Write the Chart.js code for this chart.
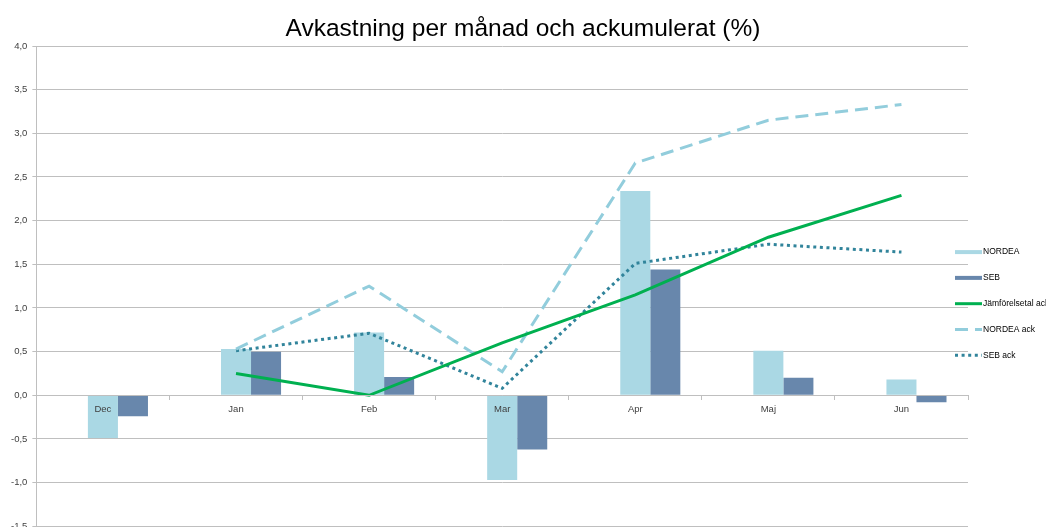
<!DOCTYPE html>
<html><head><meta charset="utf-8">
<script src="https://cdn.jsdelivr.net/npm/chart.js@4"></script>
<style>html,body{margin:0;padding:0;overflow:hidden;background:#fff}#wrap{position:relative;width:1046px;height:537px}</style>
</head><body><div id="wrap"><canvas id="c"></canvas></div>
<script>
const categories = ['Dec', 'Jan', 'Feb', 'Mar', 'Apr', 'Maj', 'Jun'];
const nordea = [-0.49, 0.53, 0.72, -0.97, 2.34, 0.51, 0.18];
const seb = [-0.24, 0.50, 0.21, -0.62, 1.44, 0.20, -0.08];
const jamforelseAck = [null, 0.25, 0.00, 0.60, 1.15, 1.81, 2.29];
const nordeaAck = [null, 0.53, 1.25, 0.27, 2.66, 3.15, 3.33];
const sebAck = [null, 0.51, 0.71, 0.08, 1.51, 1.73, 1.64];
const emptySlot = [null, null, null, null, null, null, null];
const yMin = -1.5, yMax = 4.0, yStep = 0.5;
const titleText = 'Avkastning per månad och ackumulerat (%)';

const FONT = '"Liberation Sans", Arial, sans-serif';
const gridColor = '#BFBFBF';
const datasets = [
  {type:'line', label:'Jämförelsetal ack', data:jamforelseAck, borderColor:'#00B050', borderWidth:3, pointRadius:0, tension:0, order:1, legendKind:'line'},
  {type:'line', label:'NORDEA ack', data:nordeaAck, borderColor:'#92CDDC', borderWidth:3, borderDash:[13,7], pointRadius:0, tension:0, order:1, legendKind:'line'},
  {type:'line', label:'SEB ack', data:sebAck, borderColor:'#31849B', borderWidth:3, borderDash:[3,3.6], pointRadius:0, tension:0, order:1, legendKind:'line'},
  {type:'bar', label:'', data:emptySlot, backgroundColor:'rgba(0,0,0,0)', order:2, legendKind:'none'},
  {type:'bar', label:'NORDEA', data:nordea, backgroundColor:'#AAD8E4', order:2, legendKind:'bar'},
  {type:'bar', label:'SEB', data:seb, backgroundColor:'#6887AC', order:2, legendKind:'bar'}
];
const legendOrder = ['NORDEA', 'SEB', 'Jämförelsetal ack', 'NORDEA ack', 'SEB ack'];

const titleLegendPlugin = {
  id: 'titleLegend',
  afterDraw(chart) {
    const ctx = chart.ctx;
    const ca = chart.chartArea;
    ctx.save();
    // title centred on the whole canvas
    ctx.font = '24.5px ' + FONT;
    ctx.fillStyle = '#000';
    ctx.textAlign = 'center';
    ctx.textBaseline = 'alphabetic';
    ctx.fillText(titleText, chart.width / 2, 36);
    // legend
    const x0 = ca.right - 13, x1 = ca.right + 14;
    const yStart = chart.scales.y.getPixelForValue(1.64);
    ctx.font = '8.5px ' + FONT;
    ctx.textAlign = 'left';
    ctx.textBaseline = 'middle';
    legendOrder.forEach((name, i) => {
      const ds = datasets.find(d => d.label === name);
      const y = yStart + i * 25.8;
      ctx.beginPath();
      if (ds.legendKind === 'bar') {
        ctx.strokeStyle = ds.backgroundColor;
        ctx.lineWidth = 4;
        ctx.setLineDash([]);
      } else {
        ctx.strokeStyle = ds.borderColor;
        ctx.lineWidth = 3;
        ctx.setLineDash(ds.borderDash || []);
      }
      ctx.moveTo(x0, y);
      ctx.lineTo(x1, y);
      ctx.stroke();
      ctx.setLineDash([]);
      ctx.fillStyle = '#000';
      ctx.fillText(name, x1 + 1, y);
    });
    ctx.restore();
  }
};

new Chart(document.getElementById('c'), {
  data: { labels: categories, datasets: datasets },
  options: {
    responsive: true,
    maintainAspectRatio: false,
    animation: false,
    layout: { padding: { left: 6, right: 78, top: 46, bottom: 0 } },
    datasets: { bar: { categoryPercentage: 0.677, barPercentage: 1.0 } },
    plugins: {
      legend: { display: false },
      tooltip: { enabled: false },
      title: { display: false }
    },
    scales: {
      x: {
        position: { y: 0 },
        offset: true,
        grid: { display: true, drawOnChartArea: false, drawTicks: true, tickLength: 4, offset: true, color: gridColor, z: 1 },
        border: { display: true, color: gridColor, z: 1 },
        ticks: { color: '#404040', font: { family: FONT, size: 9.5 }, padding: 4, maxRotation: 0, z: 1 }
      },
      y: {
        min: yMin, max: yMax,
        grid: { color: gridColor, lineWidth: 1, drawTicks: true, tickLength: 4 },
        border: { display: true, color: gridColor },
        ticks: { stepSize: yStep, color: '#404040', padding: 5, font: { family: FONT, size: 9.5 },
          callback: v => v.toFixed(1).replace('.', ',') }
      }
    }
  },
  plugins: [titleLegendPlugin]
});
</script></body></html>
